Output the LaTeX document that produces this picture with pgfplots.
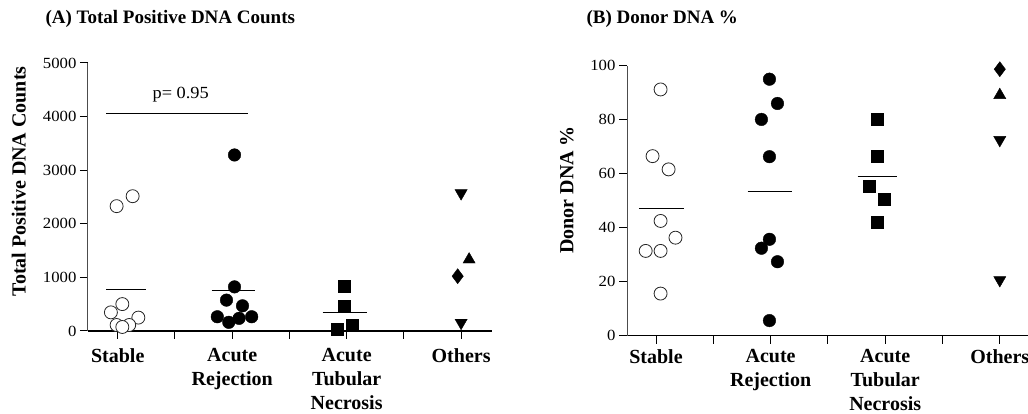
\documentclass[border=0pt]{standalone}
\usepackage{pgfplots}
\pgfplotsset{compat=1.18}
\usepackage{fontspec}
\setmainfont{Liberation Serif}
\newfontfamily\tickfont[FakeStretch=1.08]{Liberation Serif}
\begin{document}
\begin{tikzpicture}[x=1pt,y=1pt]
\useasboundingbox (0,0) rectangle (1028,414);
\pgfplotsset{
 myax/.style={
  scale only axis,
  axis x line=bottom, axis y line=left,
  x axis line style={-, black, line width=1.5pt},
  y axis line style={-, black!70, line width=1pt},
  tick align=outside, major tick length=8pt,
  tick style={black, line width=1pt},
  xtick={0,0.5,...,3},
  xticklabels={Stable,,{Acute\\Rejection},,{Acute\\Tubular\\Necrosis},,Others},
  xticklabel style={font=\fontsize{20}{24}\selectfont\bfseries, align=center, anchor=north},
  yticklabel style={font=\fontsize{15.5}{18}\selectfont\tickfont},
  /pgf/number format/assume math mode=true,
  /pgf/number format/1000 sep={},
  ylabel style={font=\fontsize{20}{24}\selectfont\bfseries, anchor=center},
  clip=false,
 },
 oc/.style={only marks, mark=*, mark size=6.5pt, mark options={fill=white, draw=black!85, line width=0.8pt}},
 fc/.style={only marks, mark=*, mark size=6.3pt, mark options={fill=black, draw=black}},
 sq/.style={only marks, mark=square*, mark size=6pt, mark options={fill=black, draw=black}},
 tu/.style={only marks, mark=triangle*, mark size=7pt, mark options={fill=black, draw=black}},
 td/.style={only marks, mark=triangle*, mark size=7pt, mark options={fill=black, draw=black, rotate=180}},
 dm/.style={only marks, mark=diamond*, mark size=7.5pt, mark options={fill=black, draw=black}},
 ml/.style={no marks, black, line width=0.9pt},
}
% Panel A
\begin{axis}[myax, at={(88pt,83pt)}, anchor=south west,
  width=404pt, height=268pt, xmin=-0.26, xmax=3.27, ymin=0, ymax=5000,
  ytick={0,1000,...,5000},
  xticklabel style={yshift=-6pt},
  ylabel={Total Positive DNA Counts},
  ylabel style={at={(axis description cs:-0.171,0.558)}}]
\addplot[oc] coordinates {(-0.01,2329) (0.13,2515) (-0.06,348) (0.04,502) (0.18,250) (-0.01,112) (0.10,112) (0.04,75)};
\addplot[fc] coordinates {(1.02,3284) (1.02,823) (0.95,576) (1.09,470) (0.87,266) (0.97,162) (1.06,236) (1.17,266)};
\addplot[sq] coordinates {(1.98,836) (1.98,465) (1.92,31) (2.05,99)};
\addplot[td] coordinates {(3.0,2571) (3.0,154)};
\addplot[tu] coordinates {(3.07,1333)};
\addplot[dm] coordinates {(2.97,1022)};
\addplot[ml] coordinates {(-0.10,780) (0.25,780)};
\addplot[ml] coordinates {(0.82,762) (1.20,762)};
\addplot[ml] coordinates {(1.79,348) (2.18,348)};
\addplot[ml] coordinates {(-0.10,4058) (1.14,4058)};
\node[font=\fontsize{17}{20}\selectfont\tickfont, anchor=base] at (axis cs:0.55,4330) {p= 0.95};
\end{axis}
% Panel B
\begin{axis}[myax, at={(627pt,78.3pt)}, anchor=south west,
  width=420pt, height=270pt, xmin=-0.253, xmax=3.412, ymin=0, ymax=100,
  ytick={0,20,...,100},
  xticklabel style={yshift=-2pt},
  ylabel={Donor DNA \%},
  ylabel style={at={(axis description cs:-0.143,0.54)}}]
\addplot[oc] coordinates {(0.04,91.2) (-0.03,66.5) (0.11,61.6) (0.04,42.5) (0.17,36.3) (-0.09,31.4) (0.04,31.4) (0.04,15.6)};
\addplot[fc] coordinates {(0.99,95) (1.06,86) (0.92,80.1) (0.99,66.3) (0.99,35.7) (0.92,32.4) (1.06,27.4) (0.99,5.6)};
\addplot[sq] coordinates {(1.93,80.3) (1.93,66.3) (1.86,55.4) (1.99,50.5) (1.93,41.9)};
\addplot[dm] coordinates {(3.0,98.7)};
\addplot[tu] coordinates {(3.0,89.1)};
\addplot[td] coordinates {(3.0,72.5) (3.0,20.6)};
\addplot[ml] coordinates {(-0.15,47.2) (0.24,47.2)};
\addplot[ml] coordinates {(0.80,53.3) (1.19,53.3)};
\addplot[ml] coordinates {(1.76,59.1) (2.10,59.1)};
\end{axis}
\node[anchor=base west, font=\fontsize{19}{24}\selectfont\bfseries] at (42,390) {(A) Total Positive DNA Counts};
\node[anchor=base west, font=\fontsize{19}{24}\selectfont\bfseries] at (583,390) {(B) Donor DNA \%};
\end{tikzpicture}
\end{document}
